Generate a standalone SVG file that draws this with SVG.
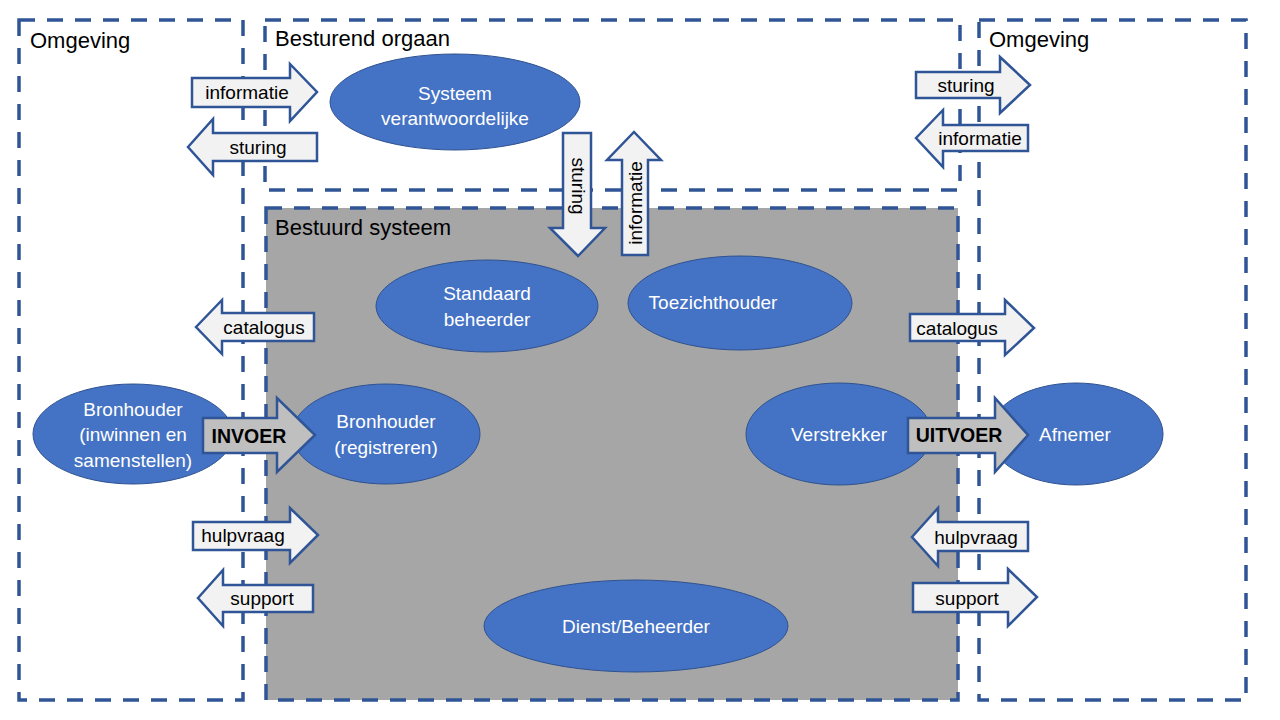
<svg xmlns="http://www.w3.org/2000/svg" width="1280" height="720" viewBox="0 0 1280 720">
<style>
.bg{fill:#ffffff}
.sys{fill:#A6A6A6}
.box{fill:none;stroke:#2F5597;stroke-width:3.5;stroke-dasharray:16 12}
.ell{fill:#4472C4;stroke:#2F528F;stroke-width:1}
.et{font-family:"Liberation Sans",Arial,sans-serif;font-size:19px;fill:#ffffff;text-anchor:middle}
.arr{fill:#F2F2F2;stroke:#2F5597;stroke-width:2.5;stroke-linejoin:miter}
.arrg{fill:#BFBFBF;stroke:#2F5597;stroke-width:2.5;stroke-linejoin:miter}
.at{font-family:"Liberation Sans",Arial,sans-serif;font-size:19px;fill:#000000;text-anchor:middle}
.bt{font-family:"Liberation Sans",Arial,sans-serif;font-size:19.5px;font-weight:bold;fill:#000000;text-anchor:middle}
.tt{font-family:"Liberation Sans",Arial,sans-serif;font-size:22px;fill:#000000}
</style>
<rect class="bg" x="0" y="0" width="1280" height="720"/>
<g id="bestuurd-systeem-fill"><rect class="sys" x="266" y="208" width="692" height="492"/></g>
<g id="boxes">
<rect id="omgeving-links" class="box" x="19" y="20" width="224" height="680"/>
<rect id="besturend-orgaan" class="box" x="265" y="20" width="695" height="170"/>
<rect id="bestuurd-systeem" class="box" x="266" y="208" width="692" height="492"/>
<rect id="omgeving-rechts" class="box" x="979" y="20" width="267" height="680"/>
</g>
<g id="titles">
<text class="tt" x="30" y="48">Omgeving</text>
<text class="tt" x="275" y="46">Besturend orgaan</text>
<text class="tt" x="275" y="235">Bestuurd systeem</text>
<text class="tt" x="989" y="47">Omgeving</text>
</g>
<g id="n-systeemverantwoordelijke"><ellipse class="ell" cx="455" cy="102" rx="125" ry="48"/><text class="et" x="455" y="100">Systeem</text><text class="et" x="455" y="125">verantwoordelijke</text></g>
<g id="n-standaardbeheerder"><ellipse class="ell" cx="487" cy="306" rx="111" ry="46"/><text class="et" x="487" y="300">Standaard</text><text class="et" x="487" y="326">beheerder</text></g>
<g id="n-toezichthouder"><ellipse class="ell" cx="740" cy="303" rx="112" ry="47"/><text class="et" x="713" y="309">Toezichthouder</text></g>
<g id="n-bronhouder-reg"><ellipse class="ell" cx="386" cy="434" rx="94" ry="50"/><text class="et" x="386" y="428">Bronhouder</text><text class="et" x="386" y="454">(registreren)</text></g>
<g id="n-bronhouder-inw"><ellipse class="ell" cx="133" cy="434" rx="100" ry="50"/><text class="et" x="133" y="416">Bronhouder</text><text class="et" x="133" y="441">(inwinnen en</text><text class="et" x="133" y="467">samenstellen)</text></g>
<g id="n-verstrekker"><ellipse class="ell" cx="839" cy="434" rx="93" ry="51"/><text class="et" x="839" y="441">Verstrekker</text></g>
<g id="n-afnemer"><ellipse class="ell" cx="1076" cy="434" rx="87" ry="51"/><text class="et" x="1075" y="441">Afnemer</text></g>
<g id="n-dienstbeheerder"><ellipse class="ell" cx="636" cy="626" rx="152" ry="46"/><text class="et" x="636" y="633">Dienst/Beheerder</text></g>
<g id="connectors">
<g id="c-informatie-l"><polygon class="arr" points="192,78 290,78 290,64 317,92 290,121 290,107 192,107"/><text class="at" x="247" y="99">informatie</text></g>
<g id="c-sturing-l"><polygon class="arr" points="188,147 213,119 213,133 317,133 317,161 213,161 213,175"/><text class="at" x="258" y="154">sturing</text></g>
<g id="c-catalogus-l"><polygon class="arr" points="196,327 222,300 222,313 314,313 314,341 222,341 222,354"/><text class="at" x="264" y="334">catalogus</text></g>
<g id="c-hulpvraag-l"><polygon class="arr" points="193,522 290,522 290,508 318,535 290,563 290,550 193,550"/><text class="at" x="243" y="542">hulpvraag</text></g>
<g id="c-support-l"><polygon class="arr" points="198,598 223,570 223,585 313,585 313,612 223,612 223,626"/><text class="at" x="262" y="605">support</text></g>
<g id="c-invoer"><polygon class="arrg" points="203,418 277,418 277,398 315,435 277,472 277,453 203,453"/><text class="bt" x="249" y="443">INVOER</text></g>
<g id="c-uitvoer"><polygon class="arrg" points="908,418 995,418 995,398 1028,435 995,472 995,453 908,453"/><text class="bt" x="959" y="442">UITVOER</text></g>
<g id="c-sturing-r"><polygon class="arr" points="916,72 1000,72 1000,57 1030,85 1000,113 1000,98 916,98"/><text class="at" x="966" y="92">sturing</text></g>
<g id="c-informatie-r"><polygon class="arr" points="916,138 943,110 943,125 1028,125 1028,151 943,151 943,167"/><text class="at" x="980" y="145">informatie</text></g>
<g id="c-catalogus-r"><polygon class="arr" points="910,314 1005,314 1005,300 1034,328 1005,355 1005,341 910,341"/><text class="at" x="957" y="335">catalogus</text></g>
<g id="c-hulpvraag-r"><polygon class="arr" points="912,537 938,508 938,522 1028,522 1028,551 938,551 938,566"/><text class="at" x="976" y="544">hulpvraag</text></g>
<g id="c-support-r"><polygon class="arr" points="913,583 1008,583 1008,569 1037,597 1008,626 1008,612 913,612"/><text class="at" x="967" y="605">support</text></g>
<g id="c-sturing-v"><polygon class="arr" points="563,133 591,133 591,228 605,228 578,256 550,228 563,228"/><text class="at" transform="translate(578,186) rotate(90)" x="0" y="6.5">sturing</text></g>
<g id="c-informatie-v"><polygon class="arr" points="622,255 648,255 648,160 661,160 634,132 607,160 622,160"/><text class="at" transform="translate(635,203) rotate(-90)" x="0" y="6.5">informatie</text></g>
</g>
</svg>
